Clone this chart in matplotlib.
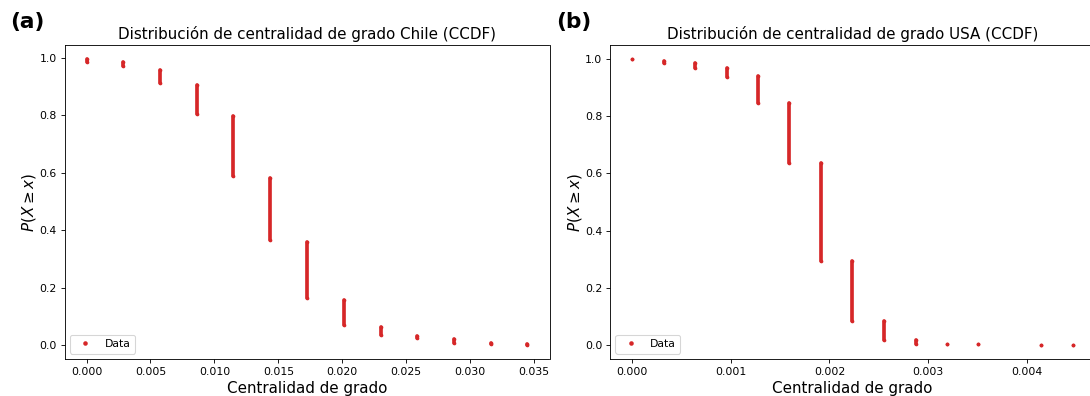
import matplotlib
matplotlib.use("Agg")
import matplotlib.pyplot as plt
from matplotlib.lines import Line2D

# ---- data ----
chile_x = [0.0, 0.00287, 0.00575, 0.00862, 0.01149, 0.01437, 0.01724,
           0.02011, 0.02299, 0.02586, 0.02874, 0.03161, 0.03448]
chile_top = [0.995, 0.984, 0.957, 0.907, 0.797, 0.583, 0.359,
             0.157, 0.062, 0.030, 0.020, 0.006, 0.002]
chile_bot = [0.987, 0.970, 0.911, 0.803, 0.587, 0.365, 0.163,
             0.068, 0.034, 0.026, 0.008, 0.004, 0.001]

usa_x = [0.0, 0.000319, 0.000638, 0.000957, 0.001276, 0.001595, 0.001914,
         0.002233, 0.002552, 0.002872, 0.003191, 0.00351, 0.004148, 0.004467]
usa_top = [0.9995, 0.995, 0.985, 0.968, 0.941, 0.846, 0.636,
           0.293, 0.084, 0.018, 0.004, 0.002, 0.0007, 0.0003]
usa_bot = [0.999, 0.988, 0.968, 0.939, 0.847, 0.636, 0.294,
           0.085, 0.018, 0.003, 0.002, 0.0015, 0.0006, 0.0003]

titles = ["Distribución de centralidad de grado Chile (CCDF)",
          "Distribución de centralidad de grado USA (CCDF)"]
panel_labels = ["(a)", "(b)"]
xlabel = "Centralidad de grado"
ylabel = r"$P(X \geq x)$"
legend_label = "Data"

RED = "#d62728"
W, H, DPI = 1090, 396, 78
fig = plt.figure(figsize=(W / DPI, H / DPI), dpi=DPI)

ax_w = 485 / W
ax_h = 314 / H
ax_b = (H - 359) / H
axes = [fig.add_axes([64.5 / W, ax_b, ax_w, ax_h]),
        fig.add_axes([610 / W, ax_b, ax_w, ax_h])]

datasets = [(chile_x, chile_top, chile_bot), (usa_x, usa_top, usa_bot)]
lw = 3.4
for ax, (xs, tops, bots), title in zip(axes, datasets, titles):
    for x, t, b in zip(xs, tops, bots):
        ax.plot([x, x], [b, t], color=RED, lw=lw, solid_capstyle="round",
                marker="o", markersize=lw, markeredgewidth=0)
    ax.set_title(title, fontsize=14)
    ax.set_xlabel(xlabel, fontsize=14)
    ax.set_ylabel(ylabel, fontsize=14, labelpad=1)
    ax.tick_params(labelsize=10)
    handle = Line2D([], [], ls="", marker="o", color=RED, markersize=4.2,
                    markeredgewidth=0)
    ax.legend([handle], [legend_label], loc="lower left", fontsize=10)

fig.text(10 / W, 1 - 12 / H, panel_labels[0], fontsize=20, fontweight="bold",
         va="top", ha="left")
fig.text(556 / W, 1 - 12 / H, panel_labels[1], fontsize=20, fontweight="bold",
         va="top", ha="left")

fig.savefig("out.png", dpi=DPI)
